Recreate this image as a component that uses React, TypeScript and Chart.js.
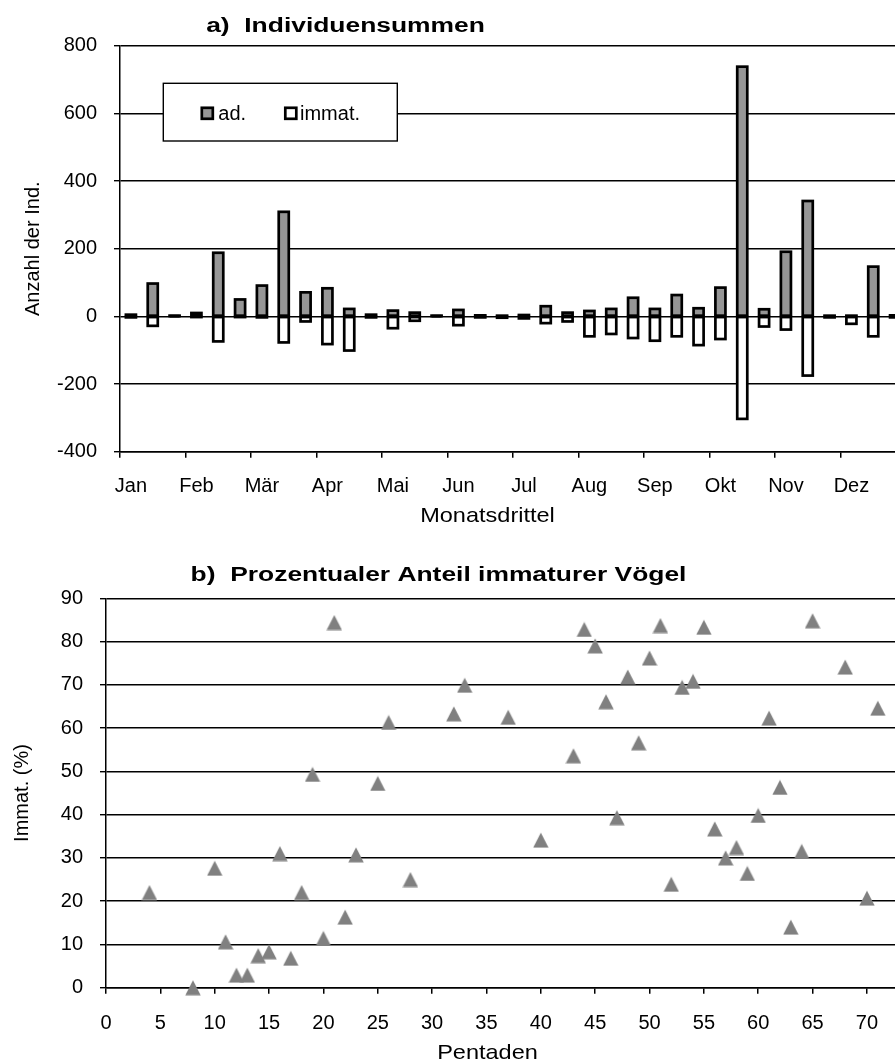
import React, { useEffect, useRef } from 'react';
import { Chart, registerables } from 'chart.js';

Chart.register(...registerables);

// ---------- Data: a) Individuensummen (Monatsdrittel) ----------
const MONTHS = ['Jan', 'Feb', 'Mär', 'Apr', 'Mai', 'Jun', 'Jul', 'Aug', 'Sep', 'Okt', 'Nov', 'Dez'];
const THIRDS = ['I', 'II', 'III'];
const AD_COUNTS = [5, 97, 1, 10, 188, 50, 91, 309, 71, 83, 22, 5, 17, 11, 1, 19, 3, 2, 4, 30, 11, 16, 22, 55, 22, 63, 24, 85, 738, 21, 191, 341, 2, 2, 147, 3];
const IMMAT_COUNTS = [3, 28, 0, 2, 74, 2, 3, 77, 15, 82, 101, 3, 35, 13, 0, 26, 3, 4, 6, 20, 15, 59, 52, 64, 72, 59, 85, 67, 303, 30, 39, 175, 3, 22, 59, 3];
const Y1_MIN = -400;
const Y1_MAX = 800;
const Y1_STEP = 200;

// ---------- Data: b) Prozentualer Anteil immaturer Vögel ----------
const PENTADE = [4, 8, 10, 11, 12, 13, 14, 15, 16, 17, 18, 19, 20, 21, 22, 23, 25, 26, 28, 32, 33, 37, 40, 43, 44, 45, 46, 47, 48, 49, 50, 51, 52, 53, 54, 55, 56, 57, 58, 59, 60, 61, 62, 63, 64, 65, 68, 70, 71];
const IMMAT_PCT = [22.0, 0, 27.6, 10.6, 2.9, 2.9, 7.4, 8.3, 31.0, 6.8, 22.0, 49.3, 11.4, 84.4, 16.3, 30.7, 47.2, 61.3, 25.0, 63.3, 69.9, 62.5, 34.1, 53.6, 82.8, 79.0, 66.1, 39.3, 71.8, 56.6, 76.2, 83.7, 23.9, 69.4, 70.8, 83.3, 36.7, 30.0, 32.4, 26.4, 39.8, 62.3, 46.3, 14.0, 31.5, 84.8, 74.1, 20.7, 64.6];
const X2_MIN = 0;
const X2_MAX = 75;
const X2_STEP = 5;
const Y2_MIN = 0;
const Y2_MAX = 90;
const Y2_STEP = 10;

const FAMILY = '"Liberation Sans", Arial, Helvetica, sans-serif';
const FONT = { family: FAMILY, size: 20 };

type TextItem = { text: string; x: number; y: number; font: string; sx: number };

function makeTextPlugin(id: string, items: TextItem[]) {
  return {
    id,
    afterDraw(chart: any) {
      const ctx = chart.ctx as CanvasRenderingContext2D;
      items.forEach((it) => {
        ctx.save();
        ctx.font = it.font;
        ctx.fillStyle = '#000';
        ctx.textAlign = 'center';
        ctx.textBaseline = 'alphabetic';
        ctx.translate(it.x, it.y);
        ctx.scale(it.sx, 1);
        ctx.fillText(it.text, 0, 0);
        ctx.restore();
      });
    },
  };
}

const barOutlinePlugin = {
  id: 'barOutline',
  afterDatasetsDraw(chart: any) {
    const ctx = chart.ctx as CanvasRenderingContext2D;
    ctx.save();
    ctx.lineWidth = 2.7;
    ctx.strokeStyle = '#000';
    chart.data.datasets.forEach((_ds: any, di: number) => {
      const meta = chart.getDatasetMeta(di);
      meta.data.forEach((el: any) => {
        const p = el.getProps(['x', 'y', 'base', 'width'], true);
        const top = Math.min(p.y, p.base);
        const h = Math.abs(p.base - p.y);
        ctx.strokeRect(p.x - p.width / 2, top, p.width, h);
      });
    });
    ctx.restore();
  },
};

const barLegendPlugin = {
  id: 'barLegend',
  afterDraw(chart: any) {
    const ctx = chart.ctx as CanvasRenderingContext2D;
    const a = chart.chartArea;
    const bx = a.left + 43.3;
    const by = a.top + 37.6;
    ctx.save();
    ctx.fillStyle = '#fff';
    ctx.fillRect(bx, by, 234, 57.7);
    ctx.lineWidth = 1.4;
    ctx.strokeStyle = '#000';
    ctx.strokeRect(bx, by, 234, 57.7);
    const ds = chart.data.datasets;
    const items = [
      { sq: bx + 38.5, tx: bx + 55, label: ds[0].label, color: ds[0].backgroundColor },
      { sq: bx + 122, tx: bx + 136.7, label: ds[1].label, color: ds[1].backgroundColor },
    ];
    ctx.font = `20px ${FAMILY}`;
    ctx.textBaseline = 'alphabetic';
    ctx.textAlign = 'left';
    items.forEach((it) => {
      ctx.fillStyle = it.color;
      ctx.fillRect(it.sq, by + 24.5, 11, 11);
      ctx.lineWidth = 2.7;
      ctx.strokeRect(it.sq, by + 24.5, 11, 11);
      ctx.fillStyle = '#000';
      ctx.fillText(it.label, it.tx, by + 36.5);
    });
    ctx.restore();
  },
};

function makeTriangle(): HTMLCanvasElement {
  const c = document.createElement('canvas');
  c.width = 16;
  c.height = 16;
  const t = c.getContext('2d')!;
  t.fillStyle = '#808080';
  t.beginPath();
  t.moveTo(8, 0.5);
  t.lineTo(15.7, 15.5);
  t.lineTo(0.3, 15.5);
  t.closePath();
  t.fill();
  return c;
}

export default function App() {
  const topRef = useRef<HTMLCanvasElement>(null);
  const botRef = useRef<HTMLCanvasElement>(null);

  useEffect(() => {
    const labels = MONTHS.flatMap((m) => THIRDS.map((t) => `${m} ${t}`));

    const top = new Chart(topRef.current!, {
      type: 'bar',
      data: {
        labels,
        datasets: [
          {
            label: 'ad.',
            data: AD_COUNTS,
            backgroundColor: '#969696',
            borderWidth: 0,
            stack: 's',
            barPercentage: 0.46,
            categoryPercentage: 1,
          },
          {
            label: 'immat.',
            data: IMMAT_COUNTS.map((v) => -v),
            backgroundColor: '#ffffff',
            borderWidth: 0,
            stack: 's',
            barPercentage: 0.46,
            categoryPercentage: 1,
          },
        ],
      },
      options: {
        responsive: false,
        animation: false,
        devicePixelRatio: 1,
        layout: { padding: { left: 0, top: 45.7, right: 54, bottom: 0 } },
        plugins: { legend: { display: false }, title: { display: false }, tooltip: { enabled: false } },
        scales: {
          x: {
            stacked: true,
            offset: true,
            grid: {
              offset: true,
              drawOnChartArea: false,
              tickLength: 6,
              lineWidth: 1.5,
              color: (c: any) => (c.index % 3 === 0 ? '#000' : 'rgba(0,0,0,0)'),
            },
            border: { color: '#000', width: 1.5 },
            ticks: {
              autoSkip: false,
              maxRotation: 0,
              minRotation: 0,
              padding: 17,
              color: '#000',
              font: FONT,
              callback: (_v: any, i: number) => (i % 3 === 0 ? MONTHS[i / 3] : ''),
            },
            afterFit: (s: any) => {
              s.height = 540 - 451.7;
            },
          },
          y: {
            stacked: true,
            min: Y1_MIN,
            max: Y1_MAX,
            ticks: { stepSize: Y1_STEP, padding: 17, color: '#000', font: FONT },
            grid: { color: '#000', lineWidth: 1.4, tickLength: 6 },
            border: { color: '#000', width: 1.5 },
            title: { display: true, text: 'Anzahl der Ind.', color: '#000', font: FONT, padding: { top: 21, bottom: 0 } },
            afterFit: (s: any) => {
              s.width = 120;
            },
          },
        },
      } as any,
      plugins: [
        barOutlinePlugin,
        barLegendPlugin,
        makeTextPlugin('topTexts', [
          { text: 'a)  Individuensummen', x: 345.5, y: 31.7, font: `bold 20px ${FAMILY}`, sx: 1.32 },
          { text: 'Monatsdrittel', x: 487.5, y: 522, font: `21px ${FAMILY}`, sx: 1.12 },
        ]),
      ],
    });

    const tri = makeTriangle();
    const bot = new Chart(botRef.current!, {
      type: 'scatter',
      data: {
        datasets: [
          {
            label: 'Immat. (%)',
            data: PENTADE.map((x, i) => ({ x, y: IMMAT_PCT[i] })),
            pointStyle: tri as any,
            pointRadius: 8,
            pointHoverRadius: 8,
            backgroundColor: '#808080',
            borderWidth: 0,
            clip: false as any,
          },
        ],
      },
      options: {
        responsive: false,
        animation: false,
        devicePixelRatio: 1,
        layout: { padding: { left: 0, top: 58.3, right: 960 - 921.3, bottom: 0 } },
        plugins: { legend: { display: false }, title: { display: false }, tooltip: { enabled: false } },
        scales: {
          x: {
            type: 'linear',
            min: X2_MIN,
            max: X2_MAX,
            ticks: { stepSize: X2_STEP, padding: 18, color: '#000', font: FONT, autoSkip: false, maxRotation: 0 },
            grid: { drawOnChartArea: false, tickLength: 6, color: '#000', lineWidth: 1.5 },
            border: { color: '#000', width: 1.5 },
            afterFit: (s: any) => {
              s.height = 524 - 447.7;
            },
          },
          y: {
            type: 'linear',
            min: Y2_MIN,
            max: Y2_MAX,
            ticks: { stepSize: Y2_STEP, padding: 17, color: '#000', font: FONT },
            grid: { color: '#000', lineWidth: 1.4, tickLength: 6 },
            border: { color: '#000', width: 1.5 },
            title: { display: true, text: 'Immat. (%)', color: '#000', font: FONT, padding: { top: 10.5, bottom: 0 } },
            afterFit: (s: any) => {
              s.width = 106;
            },
          },
        },
      } as any,
      plugins: [
        makeTextPlugin('botTexts', [
          { text: 'b)  Prozentualer Anteil immaturer Vögel', x: 438.5, y: 40.7, font: `bold 20px ${FAMILY}`, sx: 1.32 },
          { text: 'Pentaden', x: 487.5, y: 519, font: `21px ${FAMILY}`, sx: 1.12 },
        ]),
      ],
    });

    return () => {
      top.destroy();
      bot.destroy();
    };
  }, []);

  return (
    <div
      style={{
        position: 'absolute',
        left: 0,
        top: 0,
        width: 895,
        height: 1064,
        overflow: 'hidden',
        background: '#fff',
      }}
    >
      <div style={{ position: 'absolute', left: 0, top: 0, width: 960, height: 540 }}>
        <canvas ref={topRef} width={960} height={540} style={{ display: 'block' }} />
      </div>
      <div style={{ position: 'absolute', left: 0, top: 540, width: 960, height: 524 }}>
        <canvas ref={botRef} width={960} height={524} style={{ display: 'block' }} />
      </div>
    </div>
  );
}
